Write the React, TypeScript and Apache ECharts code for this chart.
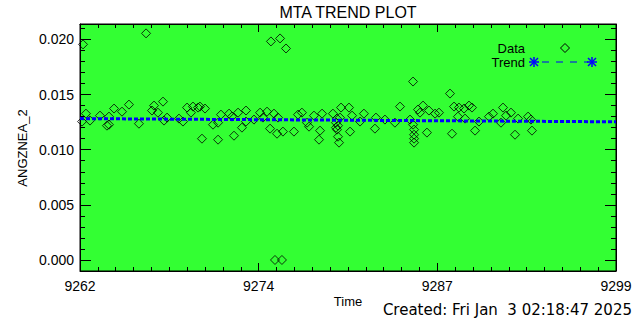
import React, { useEffect, useRef } from "react";
import * as echarts from "echarts";

// Data (time, value)
const dataTime = [
  9262.21, 9262.14, 9262.41, 9262.69, 9263.38, 9264.0, 9263.86, 9264.0, 9264.35, 9264.9,
  9265.38, 9266.56, 9266.07, 9266.97, 9267.11, 9267.38, 9267.73, 9268.01, 9267.8, 9268.83,
  9269.11, 9269.39, 9269.66, 9269.8, 9270.15, 9270.28, 9270.63, 9270.42, 9271.18, 9271.53,
  9271.53, 9271.73, 9272.29, 9272.49, 9272.91, 9273.46, 9273.18, 9272.63, 9273.46, 9274.01,
  9274.43, 9274.91, 9274.63, 9275.18, 9275.81, 9276.22, 9275.39, 9275.67, 9275.12, 9275.6,
  9276.01, 9275.46, 9275.94, 9276.77, 9277.05, 9277.32, 9277.67, 9277.81, 9278.15, 9278.71,
  9278.57, 9278.5, 9279.46, 9280.02, 9280.57, 9279.67, 9279.74, 9279.81, 9279.88, 9279.74,
  9279.81, 9280.64, 9280.78, 9281.6, 9281.33, 9282.36, 9282.43, 9283.05, 9283.74, 9284.09,
  9284.78, 9285.06, 9285.06, 9285.06, 9285.06, 9284.99, 9284.99, 9285.68, 9285.47, 9285.95,
  9286.09, 9286.51, 9286.78, 9287.54, 9287.68, 9287.82, 9288.16, 9288.51, 9288.85, 9289.06,
  9288.09, 9288.58, 9289.27, 9289.54, 9290.23, 9290.51, 9291.2, 9291.75, 9291.41, 9291.06,
  9292.24, 9292.93, 9293.13, 9292.03, 9293.2, 9285.33, 9279.95, 9279.67,
];
const dataValue = [
  0.01955, 0.01255, 0.01327, 0.01264, 0.01309, 0.013, 0.01218, 0.01227, 0.01373, 0.01345,
  0.01409, 0.02055, 0.01236, 0.01355, 0.014, 0.01336, 0.01436, 0.01291, 0.01264, 0.01282,
  0.01255, 0.01382, 0.01336, 0.01391, 0.01382, 0.01391, 0.01373, 0.011, 0.01227, 0.01245,
  0.01091, 0.01318, 0.01327, 0.013, 0.01336, 0.01355, 0.012, 0.01127, 0.01255, 0.01273,
  0.01336, 0.01345, 0.01291, 0.01982, 0.02009, 0.01918, 0.01327, 0.01291, 0.01191, 0.01145,
  0.01164, 0.0, 0.0, 0.01164, 0.01318, 0.01336, 0.01245, 0.01209, 0.01309, 0.01327,
  0.01173, 0.01091, 0.01327, 0.01382, 0.01382, 0.01245, 0.01182, 0.01118, 0.01064, 0.01282,
  0.01218, 0.01164, 0.01309, 0.01327, 0.01255, 0.01191, 0.01291, 0.01273, 0.01245, 0.01391,
  0.01273, 0.01182, 0.01136, 0.011, 0.01064, 0.01227, 0.01618, 0.014, 0.01336, 0.01155,
  0.01355, 0.01327, 0.01336, 0.01509, 0.01145, 0.01391, 0.01382, 0.01373, 0.014, 0.01382,
  0.013, 0.01282, 0.01173, 0.01255, 0.013, 0.01327, 0.01382, 0.01336, 0.01309, 0.01245,
  0.01282, 0.013, 0.01273, 0.01136, 0.01173, 0.01364, 0.01291, 0.01200,
];
const trendTime = [9262, 9299];
const trendValue = [0.01282, 0.01253];

const xMin = 9262;
const xMax = 9299;
const yMin = -0.001;
const yMax = 0.0214;
const yMajorTicks = [0.0, 0.005, 0.01, 0.015, 0.02];
const yTickLabels = ["0.000", "0.005", "0.010", "0.015", "0.020"];

const FONT = "Liberation Sans";

export default function App() {
  const ref = useRef<HTMLDivElement>(null);
  useEffect(() => {
    if (!ref.current) return;
    const chart = echarts.init(ref.current, null, { renderer: "svg" });

    const xMajor: number[] = [];
    for (let k = 0; k <= 3; k++) xMajor.push(xMin + (k * (xMax - xMin)) / 3);
    const xMinor: number[] = [];
    for (let k = 0; k <= 30; k++) xMinor.push(xMin + (k * (xMax - xMin)) / 30);
    const yMinor: number[] = [];
    for (let k = 0; k <= 22; k++) yMinor.push(Math.round((yMin + k * 0.001) * 1e6) / 1e6);

    const mkX = (pos: string, vals: number[], len: number, labels: boolean, line: boolean) => ({
      type: "value",
      position: pos,
      min: xMin,
      max: xMax,
      axisLine: { show: line, onZero: false, lineStyle: { color: "#000", width: 1 } },
      axisTick: { show: true, inside: true, length: len, customValues: vals, lineStyle: { color: "#000" } },
      axisLabel: labels
        ? {
            show: true,
            customValues: xMajor,
            formatter: (v: number) => String(Math.round(v)),
            color: "#000",
            fontFamily: FONT,
            fontSize: 14,
            margin: 8,
          }
        : { show: false },
      splitLine: { show: false },
    });
    const mkY = (pos: string, vals: number[], len: number, labels: boolean, line: boolean) => ({
      type: "value",
      position: pos,
      min: yMin,
      max: yMax,
      axisLine: { show: line, onZero: false, lineStyle: { color: "#000", width: 1 } },
      axisTick: { show: true, inside: true, length: len, customValues: vals, lineStyle: { color: "#000" } },
      axisLabel: labels
        ? {
            show: true,
            customValues: yMajorTicks,
            formatter: (v: number) => {
              const i = yMajorTicks.findIndex((m) => Math.abs(m - v) < 1e-7);
              return i >= 0 ? yTickLabels[i] : "";
            },
            color: "#000",
            fontFamily: FONT,
            fontSize: 14,
            margin: 6,
          }
        : { show: false },
      splitLine: { show: false },
    });

    const pts = dataTime.map((t, i) => [t, dataValue[i]]);
    const trend = trendTime.map((t, i) => [t, trendValue[i]]);

    const star = (cx: number, cy: number) => ({
      type: "group",
      x: cx,
      y: cy,
      children: [
        { type: "line", shape: { x1: 0, y1: -5, x2: 0, y2: 5 }, style: { stroke: "#0000ff", lineWidth: 1.5 } },
        { type: "line", shape: { x1: -5, y1: 0, x2: 5, y2: 0 }, style: { stroke: "#0000ff", lineWidth: 1.5 } },
        { type: "line", shape: { x1: -4, y1: -4, x2: 4, y2: 4 }, style: { stroke: "#0000ff", lineWidth: 1.5 } },
        { type: "line", shape: { x1: -4, y1: 4, x2: 4, y2: -4 }, style: { stroke: "#0000ff", lineWidth: 1.5 } },
      ],
    });

    chart.setOption({
      animation: false,
      backgroundColor: "#ffffff",
      grid: {
        left: 80,
        right: 24,
        top: 24,
        bottom: 49,
        show: true,
        backgroundColor: "#33ff33",
        borderColor: "#000",
        borderWidth: 1,
      },
      xAxis: [
        mkX("bottom", xMajor, 8, true, true),
        mkX("bottom", xMinor, 4, false, false),
        mkX("top", xMajor, 8, false, true),
        mkX("top", xMinor, 4, false, false),
      ],
      yAxis: [
        mkY("left", yMajorTicks, 11, true, true),
        mkY("left", yMinor, 5, false, false),
        mkY("right", yMajorTicks, 11, false, true),
        mkY("right", yMinor, 5, false, false),
      ],
      series: [
        {
          type: "scatter",
          data: pts,
          symbol: "diamond",
          symbolSize: 9,
          itemStyle: { color: "rgba(0,0,0,0)", borderColor: "#000", borderWidth: 1 },
          z: 3,
        },
        {
          type: "line",
          data: trend,
          symbol: "none",
          lineStyle: { color: "#0000ff", width: 3, type: [4, 2] },
          z: 4,
        },
      ],
      graphic: [
        {
          type: "text",
          x: 348,
          y: 12,
          style: { text: "MTA TREND PLOT", fill: "#000", font: `16px "${FONT}"`, textAlign: "center", textVerticalAlign: "middle" },
        },
        {
          type: "text",
          x: 22,
          y: 148,
          rotation: Math.PI / 2,
          style: { text: "ANGZNEA_2", fill: "#000", font: `13px "${FONT}"`, textAlign: "center", textVerticalAlign: "middle" },
        },
        {
          type: "text",
          x: 348,
          y: 301,
          style: { text: "Time", fill: "#000", font: `13px "${FONT}"`, textAlign: "center", textVerticalAlign: "middle" },
        },
        {
          type: "text",
          x: 632,
          y: 310,
          style: { text: "Created: Fri Jan  3 02:18:47 2025", fill: "#000", font: `15px "DejaVu Sans"`, textAlign: "right", textVerticalAlign: "middle" },
        },
        {
          type: "text",
          x: 525,
          y: 48,
          style: { text: "Data", fill: "#000", font: `13px "${FONT}"`, textAlign: "right", textVerticalAlign: "middle" },
        },
        {
          type: "polygon",
          shape: { points: [[565, 43.5], [569.5, 48], [565, 52.5], [560.5, 48]] },
          style: { fill: "none", stroke: "#000", lineWidth: 1 },
        },
        {
          type: "text",
          x: 525,
          y: 62,
          style: { text: "Trend", fill: "#000", font: `13px "${FONT}"`, textAlign: "right", textVerticalAlign: "middle" },
        },
        star(534, 62),
        {
          type: "line",
          shape: { x1: 542, y1: 62, x2: 588, y2: 62 },
          style: { stroke: "#0000ff", lineWidth: 1, lineDash: [7, 7] },
        },
        star(592, 62),
      ],
    });
    return () => chart.dispose();
  }, []);
  return <div ref={ref} style={{ width: 640, height: 320, position: "absolute", left: 0, top: 0 }} />;
}
